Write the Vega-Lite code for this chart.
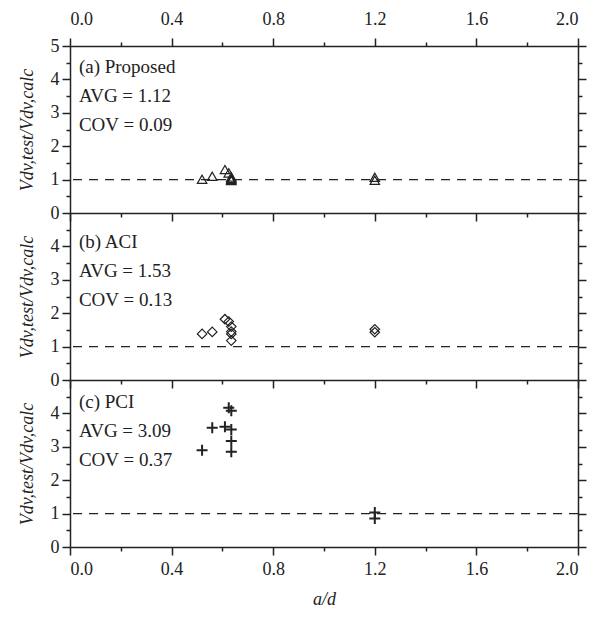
{
  "$schema": "https://vega.github.io/schema/vega-lite/v6.json",
  "padding": {"left": 18, "top": 10, "right": 10, "bottom": 5},
  "spacing": 0,
  "bounds": "flush",
  "config": {
    "font": "Liberation Serif",
    "view": {"stroke": null},
    "axis": {
      "labelFont": "Liberation Serif", "labelFontSize": 18, "labelColor": "#222",
      "titleFont": "Liberation Serif", "titleFontSize": 18, "titleFontStyle": "italic", "titleFontWeight": "normal", "titleColor": "#222",
      "domainColor": "#222", "domainWidth": 1.5, "tickColor": "#222", "tickWidth": 1.5, "grid": false
    }
  },
  "datasets": {
    "specimens": [
      {"ad": 0.52, "proposed": 1.01, "aci": 1.38, "pci": 2.9},
      {"ad": 0.56, "proposed": 1.1, "aci": 1.44, "pci": 3.57},
      {"ad": 0.61, "proposed": 1.3, "aci": 1.82, "pci": 3.6},
      {"ad": 0.625, "proposed": 1.2, "aci": 1.75, "pci": 4.17},
      {"ad": 0.635, "proposed": 1.08, "aci": 1.6, "pci": 4.08},
      {"ad": 0.635, "proposed": 1.03, "aci": 1.45, "pci": 3.52},
      {"ad": 0.635, "proposed": 1.0, "aci": 1.38, "pci": 3.17},
      {"ad": 0.635, "proposed": 0.97, "aci": 1.18, "pci": 2.85},
      {"ad": 1.2, "proposed": 1.07, "aci": 1.52, "pci": 1.03},
      {"ad": 1.2, "proposed": 0.98, "aci": 1.43, "pci": 0.85}
    ]
  },
  "vconcat": [
    {
      "width": 508, "height": 167,
      "resolve": {"axis": {"x": "independent", "y": "independent"}},
      "layer": [
        {
          "data": {"values": [{}]},
          "mark": {"type": "rule", "strokeDash": [9, 7], "strokeWidth": 1.3, "color": "#222"},
          "encoding": {
            "y": {"datum": 1, "type": "quantitative",
              "axis": {"orient": "right", "labels": false, "title": null,
                "values": [0, 0.5, 1, 1.5, 2, 2.5, 3, 3.5, 4, 4.5, 5],
                "tickSize": {"condition": {"test": "datum.value % 1 === 0", "value": 8}, "value": 4}}}
          }
        },
        {
          "data": {"name": "specimens"},
          "mark": {"type": "point", "shape": "triangle-up", "size": 90, "stroke": "#222", "strokeWidth": 1.2, "filled": false, "opacity": 1},
          "encoding": {
            "x": {"field": "ad", "type": "quantitative", "scale": {"domain": [0, 2], "nice": false},
              "axis": {"orient": "bottom", "labels": false, "title": null,
                "values": [0, 0.2, 0.4, 0.6, 0.8, 1, 1.2, 1.4, 1.6, 1.8, 2],
                "tickSize": {"condition": {"test": "round(datum.value*10) % 4 === 0", "value": 8}, "value": 4}}},
            "y": {"field": "proposed", "type": "quantitative", "scale": {"domain": [0, 5], "nice": false},
              "axis": {"orient": "left", "title": "Vdv,test/Vdv,calc", "titlePadding": 14, "labelPadding": 3,
                "values": [0, 0.5, 1, 1.5, 2, 2.5, 3, 3.5, 4, 4.5, 5],
                "labelExpr": "datum.value % 1 === 0 ? format(datum.value, 'd') : ''",
                "tickSize": {"condition": {"test": "datum.value % 1 === 0", "value": 8}, "value": 4}}}
          }
        },
        {
          "data": {"values": [{}]},
          "mark": {"type": "text", "align": "left", "baseline": "top", "fontSize": 19, "lineHeight": 29, "color": "#222", "font": "Liberation Serif"},
          "encoding": {
            "x": {"datum": 0.035, "type": "quantitative",
              "axis": {"orient": "top", "title": null, "labelPadding": 10,
                "values": [0, 0.2, 0.4, 0.6, 0.8, 1, 1.2, 1.4, 1.6, 1.8, 2],
                "labelExpr": "round(datum.value*10) % 4 === 0 ? format(datum.value, '.1f') : ''",
                "tickSize": {"condition": {"test": "round(datum.value*10) % 4 === 0", "value": 8}, "value": 4}}},
            "y": {"datum": 4.64, "type": "quantitative", "axis": null},
            "text": {"value": ["(a) Proposed", "AVG = 1.12", "COV = 0.09"]}
          }
        }
      ]
    },
    {
      "width": 508, "height": 167,
      "resolve": {"axis": {"x": "independent", "y": "independent"}},
      "layer": [
        {
          "data": {"values": [{}]},
          "mark": {"type": "rule", "strokeDash": [9, 7], "strokeWidth": 1.3, "color": "#222"},
          "encoding": {
            "y": {"datum": 1, "type": "quantitative",
              "axis": {"orient": "right", "labels": false, "title": null,
                "values": [0, 0.5, 1, 1.5, 2, 2.5, 3, 3.5, 4, 4.5],
                "tickSize": {"condition": {"test": "datum.value % 1 === 0", "value": 8}, "value": 4}}}
          }
        },
        {
          "data": {"name": "specimens"},
          "mark": {"type": "point", "shape": "diamond", "size": 90, "stroke": "#222", "strokeWidth": 1.2, "filled": false, "opacity": 1},
          "encoding": {
            "x": {"field": "ad", "type": "quantitative", "scale": {"domain": [0, 2], "nice": false},
              "axis": {"orient": "bottom", "labels": false, "title": null,
                "values": [0, 0.2, 0.4, 0.6, 0.8, 1, 1.2, 1.4, 1.6, 1.8, 2],
                "tickSize": {"condition": {"test": "round(datum.value*10) % 4 === 0", "value": 8}, "value": 4}}},
            "y": {"field": "aci", "type": "quantitative", "scale": {"domain": [0, 5], "nice": false},
              "axis": {"orient": "left", "title": "Vdv,test/Vdv,calc", "titlePadding": 14, "labelPadding": 3,
                "values": [0, 0.5, 1, 1.5, 2, 2.5, 3, 3.5, 4, 4.5],
                "labelExpr": "datum.value % 1 === 0 ? format(datum.value, 'd') : ''",
                "tickSize": {"condition": {"test": "datum.value % 1 === 0", "value": 8}, "value": 4}}}
          }
        },
        {
          "data": {"values": [{}]},
          "mark": {"type": "text", "align": "left", "baseline": "top", "fontSize": 19, "lineHeight": 29, "color": "#222", "font": "Liberation Serif"},
          "encoding": {
            "x": {"datum": 0.035, "type": "quantitative", "axis": null},
            "y": {"datum": 4.4, "type": "quantitative", "axis": null},
            "text": {"value": ["(b) ACI", "AVG = 1.53", "COV = 0.13"]}
          }
        }
      ]
    },
    {
      "width": 508, "height": 167,
      "resolve": {"axis": {"x": "independent", "y": "independent"}},
      "layer": [
        {
          "data": {"values": [{}]},
          "mark": {"type": "rule", "strokeDash": [9, 7], "strokeWidth": 1.3, "color": "#222"},
          "encoding": {
            "y": {"datum": 1, "type": "quantitative",
              "axis": {"orient": "right", "labels": false, "title": null,
                "values": [0, 0.5, 1, 1.5, 2, 2.5, 3, 3.5, 4, 4.5],
                "tickSize": {"condition": {"test": "datum.value % 1 === 0", "value": 8}, "value": 4}}}
          }
        },
        {
          "data": {"name": "specimens"},
          "mark": {"type": "point", "shape": "M-1,0H1M0,-1V1", "size": 121, "stroke": "#222", "strokeWidth": 2, "filled": false, "opacity": 1},
          "encoding": {
            "x": {"field": "ad", "type": "quantitative", "scale": {"domain": [0, 2], "nice": false},
              "axis": {"orient": "bottom", "title": "a/d", "labelPadding": 5, "titlePadding": 12,
                "values": [0, 0.2, 0.4, 0.6, 0.8, 1, 1.2, 1.4, 1.6, 1.8, 2],
                "labelExpr": "round(datum.value*10) % 4 === 0 ? format(datum.value, '.1f') : ''",
                "tickSize": {"condition": {"test": "round(datum.value*10) % 4 === 0", "value": 8}, "value": 4}}},
            "y": {"field": "pci", "type": "quantitative", "scale": {"domain": [0, 5], "nice": false},
              "axis": {"orient": "left", "title": "Vdv,test/Vdv,calc", "titlePadding": 14, "labelPadding": 3,
                "values": [0, 0.5, 1, 1.5, 2, 2.5, 3, 3.5, 4, 4.5],
                "labelExpr": "datum.value % 1 === 0 ? format(datum.value, 'd') : ''",
                "tickSize": {"condition": {"test": "datum.value % 1 === 0", "value": 8}, "value": 4}}}
          }
        },
        {
          "data": {"values": [{}]},
          "mark": {"type": "text", "align": "left", "baseline": "top", "fontSize": 19, "lineHeight": 29, "color": "#222", "font": "Liberation Serif"},
          "encoding": {
            "x": {"datum": 0.035, "type": "quantitative", "axis": null},
            "y": {"datum": 4.62, "type": "quantitative", "axis": null},
            "text": {"value": ["(c) PCI", "AVG = 3.09", "COV = 0.37"]}
          }
        }
      ]
    }
  ]
}
